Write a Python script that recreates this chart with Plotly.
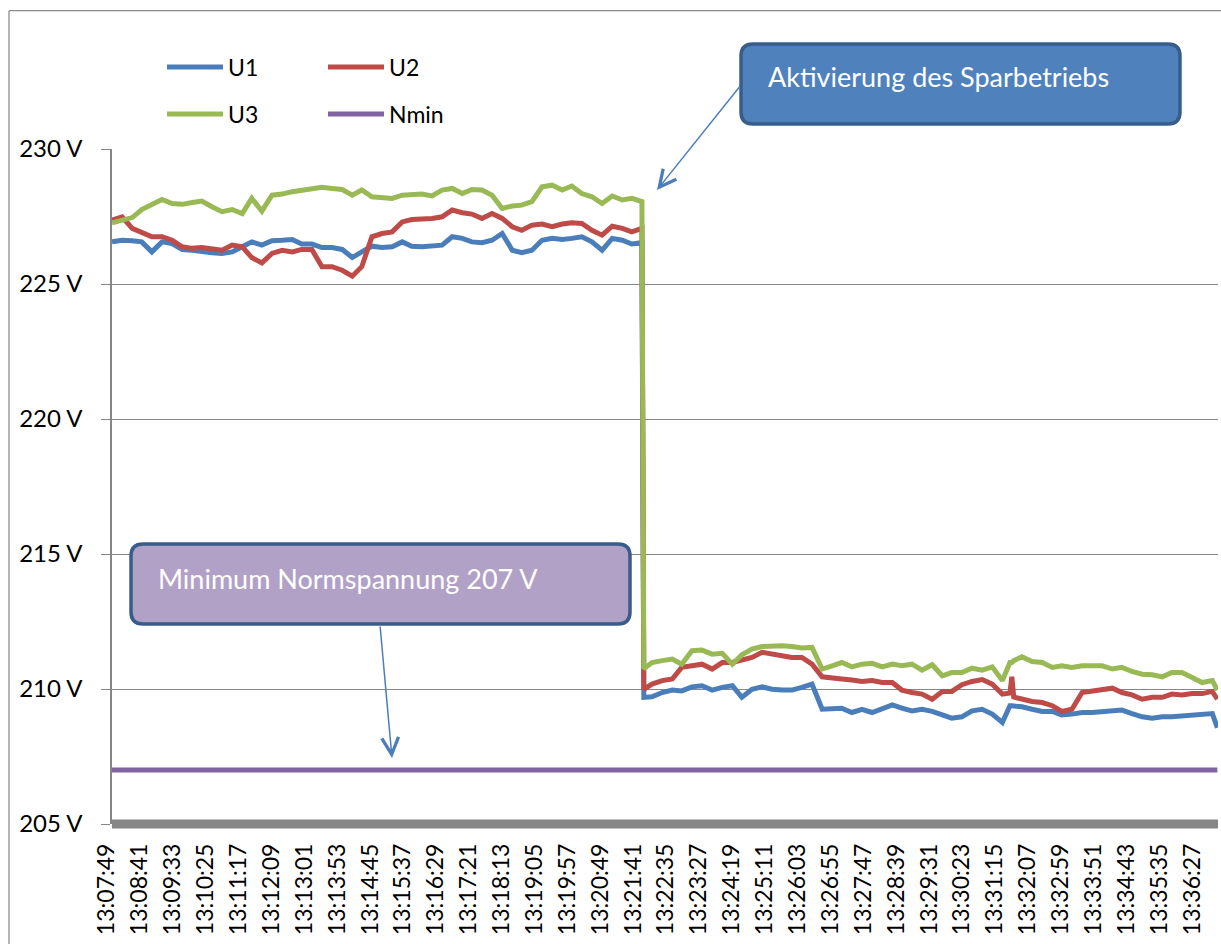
import plotly.graph_objects as go

# ---------------- data ----------------
# sample index (1 sample per second, counted from 13:07:49)
sample_idx = [0, 16, 32, 47, 63, 79, 95, 111, 127, 142, 158, 174, 190, 206, 221, 237, 253, 269, 285, 300,
              316, 332, 348, 364, 380, 395, 411, 427, 443, 459, 474, 490, 506, 522, 538, 554, 569, 585, 601, 617,
              633, 648, 664, 680, 696, 712, 727, 743, 759, 775, 791, 807, 822, 838,
              841, 854, 870, 886, 901, 917, 933, 949, 965, 981, 996, 1012, 1028, 1044, 1060, 1075, 1091, 1107,
              1123, 1139, 1154, 1170, 1186, 1202, 1218, 1234, 1249, 1265, 1281, 1297,
              1313, 1328, 1344, 1360, 1376, 1392, 1408, 1420, 1423, 1426, 1439, 1455, 1471, 1487, 1502, 1518,
              1534, 1550, 1566, 1582, 1597, 1613, 1629, 1645, 1661, 1676, 1692, 1708, 1724, 1740, 1748]

u1 = [226.56, 226.62, 226.60, 226.56, 226.19, 226.56, 226.50, 226.28, 226.25, 226.19, 226.16, 226.13, 226.19,
      226.38, 226.56, 226.44, 226.60, 226.62, 226.65, 226.48, 226.48, 226.35, 226.35, 226.28, 225.98, 226.19,
      226.40, 226.35,
      226.38, 226.56, 226.40, 226.38, 226.40, 226.44, 226.75, 226.69, 226.56, 226.53, 226.62, 226.87, 226.25,
      226.16, 226.25, 226.62, 226.69, 226.65, 226.69, 226.75, 226.56, 226.25, 226.69, 226.62, 226.48, 226.53,
      209.69, 209.71, 209.87, 209.96, 209.93, 210.08, 210.12, 209.96, 210.06, 210.12, 209.69, 209.99, 210.08,
      209.99, 209.96, 209.96, 210.06, 210.18, 209.25, 209.29, 209.29, 209.13, 209.25, 209.13, 209.29, 209.41,
      209.29, 209.19, 209.25, 209.17,
      209.04, 208.92, 208.97, 209.19, 209.25, 209.07, 208.76, 209.38, 209.38, 209.38, 209.34, 209.25, 209.17,
      209.17, 209.04, 209.07, 209.13, 209.13, 209.17, 209.17, 209.22, 209.09, 208.97, 208.92, 208.97, 208.97,
      209.01, 209.01, 209.07, 209.09, 208.57]

u2 = [227.37, 227.49, 227.06, 226.93, 226.75, 226.75, 226.62, 226.38, 226.32, 226.35, 226.28, 226.25, 226.44,
      226.38, 225.98, 225.78, 226.13, 226.25, 226.19, 226.28, 226.28, 225.64, 225.64, 225.51, 225.29, 225.64,
      226.75, 226.87,
      226.93, 227.30, 227.39, 227.39, 227.43, 227.49, 227.74, 227.64, 227.59, 227.43, 227.61, 227.43, 227.12,
      226.99, 227.18, 227.22, 227.12, 227.22, 227.27, 227.24, 226.99, 226.81, 227.14, 227.06, 226.93, 227.06,
      209.99, 210.18, 210.31, 210.37, 210.80, 210.86, 210.92, 210.74, 210.98, 210.98, 211.05, 211.17, 211.36,
      211.29, 211.23, 211.17, 211.17, 210.92, 210.45, 210.43, 210.37, 210.33, 210.28, 210.31, 210.24, 210.24,
      209.96, 209.87, 209.81, 209.62,
      209.91, 209.91, 210.16, 210.28, 210.35, 210.18, 209.81, 209.85, 210.45, 209.70, 209.62, 209.54, 209.50,
      209.38, 209.17, 209.25, 209.87, 209.93, 209.96, 210.03, 209.87, 209.78, 209.62, 209.69, 209.69, 209.81,
      209.78, 209.83, 209.83, 209.91, 209.62]

u3 = [227.27, 227.37, 227.46, 227.76, 227.92, 228.13, 227.98, 227.95, 228.02, 228.07, 227.86, 227.68, 227.76,
      227.61, 228.17, 227.70, 228.29, 228.33, 228.42, 228.48, 228.50, 228.58, 228.54, 228.50, 228.29, 228.48,
      228.23, 228.20,
      228.17, 228.29, 228.33, 228.33, 228.26, 228.48, 228.54, 228.35, 228.50, 228.48, 228.29, 227.80, 227.89,
      227.92, 228.05, 228.60, 228.66, 228.48, 228.63, 228.35, 228.23, 227.98, 228.26, 228.11, 228.17, 228.05,
      210.75, 210.98, 211.05, 211.11, 210.92, 211.42, 211.44, 211.29, 211.32, 210.92, 211.27, 211.48, 211.57,
      211.59, 211.60, 211.57, 211.52, 211.54, 210.74, 210.86, 210.98, 210.82, 210.92, 210.95, 210.82, 210.92,
      210.86, 210.92, 210.70, 210.90,
      210.49, 210.61, 210.61, 210.77, 210.70, 210.82, 210.31, 210.98, 210.98, 211.05, 211.19, 211.02, 210.98,
      210.80, 210.86, 210.80, 210.86, 210.86, 210.86, 210.74, 210.80, 210.65, 210.55, 210.53, 210.45, 210.61,
      210.61, 210.43, 210.24, 210.31, 209.96]

nmin_idx = [0, 1748]
nmin = [207.0, 207.0]

tick_idx = [0, 52, 104, 156, 208, 260, 312, 364, 416, 468, 520, 572, 624, 676, 728, 780, 832,
            884, 936, 988, 1040, 1092, 1144, 1196, 1248, 1300, 1352, 1404, 1456, 1508, 1560, 1612, 1664, 1716]
tick_labels = ["13:07:49", "13:08:41", "13:09:33", "13:10:25", "13:11:17", "13:12:09", "13:13:01",
               "13:13:53", "13:14:45", "13:15:37", "13:16:29", "13:17:21", "13:18:13", "13:19:05",
               "13:19:57", "13:20:49", "13:21:41", "13:22:35", "13:23:27", "13:24:19", "13:25:11",
               "13:26:03", "13:26:55", "13:27:47", "13:28:39", "13:29:31", "13:30:23", "13:31:15",
               "13:32:07", "13:32:59", "13:33:51", "13:34:43", "13:35:35", "13:36:27"]
y_ticks = [205, 210, 215, 220, 225, 230]
y_labels = ["205 V", "210 V", "215 V", "220 V", "225 V", "230 V"]

# ---------------- geometry helpers (pixel -> paper) ----------------
W, H = 1221, 944
ML, MR, MT, MB = 112, 3, 149, 120
PW = W - ML - MR
PH = H - MT - MB


def X(px):
    return (px - ML) / PW


def Y(py):
    return (H - MB - py) / PH


def rounded_rect(x0, y0, x1, y1, r):
    p = [
        f"M {X(x0 + r)} {Y(y0)}",
        f"L {X(x1 - r)} {Y(y0)}",
        f"Q {X(x1)} {Y(y0)} {X(x1)} {Y(y0 + r)}",
        f"L {X(x1)} {Y(y1 - r)}",
        f"Q {X(x1)} {Y(y1)} {X(x1 - r)} {Y(y1)}",
        f"L {X(x0 + r)} {Y(y1)}",
        f"Q {X(x0)} {Y(y1)} {X(x0)} {Y(y1 - r)}",
        f"L {X(x0)} {Y(y0 + r)}",
        f"Q {X(x0)} {Y(y0)} {X(x0 + r)} {Y(y0)}",
        "Z",
    ]
    return " ".join(p)


FONT = "Lato, Carlito, Calibri, 'Open Sans', sans-serif"
GRID = "#868686"

fig = go.Figure()
series = [
    ("U1", sample_idx, u1, "#4A7EBB", "legend"),
    ("U2", sample_idx, u2, "#BE4B48", "legend2"),
    ("U3", sample_idx, u3, "#98B954", "legend3"),
    ("Nmin", nmin_idx, nmin, "#7F63A1", "legend4"),
]
for name, xs, ys, col, lg in series:
    fig.add_trace(go.Scatter(x=xs, y=ys, mode="lines", name=name, legend=lg,
                             line=dict(color=col, width=5), hoverinfo="skip"))

leg_common = dict(orientation="h", bgcolor="rgba(0,0,0,0)", borderwidth=0,
                  font=dict(family=FONT, size=23, color="black"),
                  xanchor="left", yanchor="middle", itemwidth=56)

fig.update_layout(
    width=W, height=H,
    margin=dict(l=ML, r=MR, t=MT, b=MB, pad=0),
    paper_bgcolor="white", plot_bgcolor="white",
    font=dict(family=FONT, size=24, color="black"),
    legend=dict(x=X(162), y=Y(67), **leg_common),
    legend2=dict(x=X(323), y=Y(67), **leg_common),
    legend3=dict(x=X(162), y=Y(114), **leg_common),
    legend4=dict(x=X(323), y=Y(114), **leg_common),
    xaxis=dict(range=[0, 1749], tickmode="array", tickvals=tick_idx, ticktext=tick_labels,
               tickangle=-90, tickfont=dict(family=FONT, size=23, color="black"),
               showgrid=False, zeroline=False, showline=False, ticks="",
               ticklabelstandoff=14, ticklabelshift=-5),
    yaxis=dict(range=[205, 230], tickmode="array", tickvals=y_ticks, ticktext=y_labels,
               tickfont=dict(family=FONT, size=24, color="black"),
               showgrid=True, gridcolor=GRID, gridwidth=1.3, zeroline=False,
               showline=True, linecolor=GRID, linewidth=1.5,
               ticks="outside", ticklen=9, tickcolor=GRID, tickwidth=1.3,
               ticklabelstandoff=14),
    showlegend=True,
)

shapes = [
    # thick category axis line at 205 V (bottom of plot area)
    dict(type="line", xref="paper", yref="paper", x0=0, x1=1, y0=0, y1=0,
         line=dict(color=GRID, width=9), layer="above"),
    # chart-area border (top and left)
    dict(type="line", xref="paper", yref="paper", x0=X(9), x1=X(1221), y0=Y(10.7), y1=Y(10.7),
         line=dict(color="#8C8C8C", width=1.3)),
    dict(type="line", xref="paper", yref="paper", x0=X(9), x1=X(9), y0=Y(10.7), y1=Y(944),
         line=dict(color="#8C8C8C", width=1.3)),
    # callout boxes
    dict(type="path", xref="paper", yref="paper", path=rounded_rect(741, 44, 1180, 124, 12),
         fillcolor="#4F81BD", line=dict(color="#385D8A", width=3.5), layer="above"),
    dict(type="path", xref="paper", yref="paper", path=rounded_rect(131, 544, 630, 624, 12),
         fillcolor="#B2A1C7", line=dict(color="#385D8A", width=3.5), layer="above"),
]
fig.update_layout(shapes=shapes)

annotations = [
    dict(text="Aktivierung des Sparbetriebs", xref="paper", yref="paper", x=X(766), y=Y(77),
         xanchor="left", yanchor="middle", showarrow=False,
         font=dict(family=FONT, size=27, color="white")),
    dict(text="Minimum Normspannung 207 V", xref="paper", yref="paper", x=X(156), y=Y(578),
         xanchor="left", yanchor="middle", showarrow=False,
         font=dict(family=FONT, size=27, color="white")),
    dict(text="", xref="paper", yref="paper", x=X(657), y=Y(190), ax=741 - 657, ay=85 - 190,
         showarrow=True, arrowhead=5, arrowsize=2.2, arrowwidth=1.5, arrowcolor="#4A7EBB", standoff=0),
    dict(text="", xref="paper", yref="paper", x=X(392), y=Y(758), ax=380 - 392, ay=625 - 758,
         showarrow=True, arrowhead=5, arrowsize=2.2, arrowwidth=1.5, arrowcolor="#4A7EBB", standoff=0),
]
fig.update_layout(annotations=annotations)

fig.write_html("out.html", config={"displayModeBar": False},
               post_script="document.body.style.margin='0';document.body.style.overflow='hidden';")
